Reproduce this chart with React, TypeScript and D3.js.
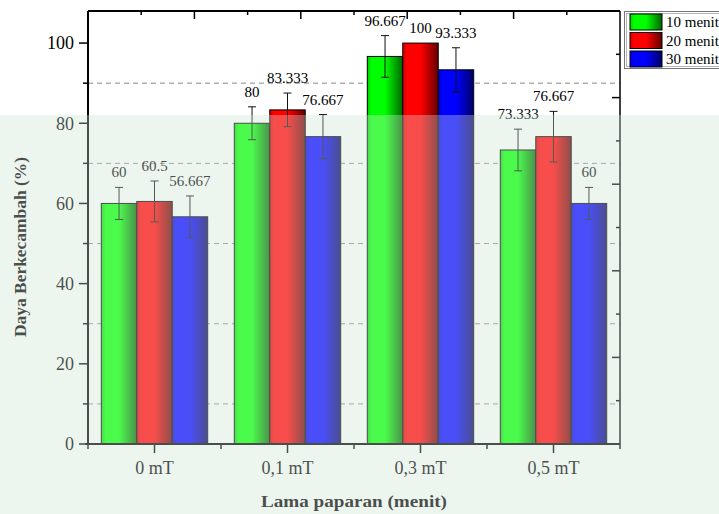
import React, { useEffect, useRef } from 'react';
import * as d3 from 'd3';

const categories = ['0 mT', '0,1 mT', '0,3 mT', '0,5 mT'];
const seriesNames = ['10 menit', '20 menit', '30 menit'];
const seriesColors = ['#00ff00', '#ff0000', '#0000ff'];
const means10 = [60, 80, 96.667, 73.333];
const means20 = [60.5, 83.333, 100, 76.667];
const means30 = [56.667, 76.667, 93.333, 60];
const err10 = [4, 4.1, 5.2, 5.2];
const err20 = [5.1, 4.2, 0, 6.3];
const err30 = [5.2, 5.5, 5.5, 4];
const majorTicks = [0, 20, 40, 60, 80, 100];
const minorTicks = [10, 30, 50, 70, 90];

const W = 719;
const H = 514;

const App: React.FC = () => {
  const svgRef = useRef<SVGSVGElement>(null);

  useEffect(() => {
    if (!svgRef.current) return;
    const svg = d3.select(svgRef.current);
    svg.selectAll('*').remove();

    const margin = { top: 11, right: 99, bottom: 70, left: 88 };
    const left = margin.left;
    const right = W - margin.right;
    const top = margin.top;
    const bottom = H - margin.bottom;
    const font = '"Liberation Serif", "Times New Roman", serif';

    const x = d3.scaleBand<string>()
      .domain(categories)
      .range([left, right])
      .paddingInner(0.2)
      .paddingOuter(0.1);

    const xs = d3.scaleBand<string>()
      .domain(seriesNames)
      .range([0, x.bandwidth()])
      .padding(0);

    const y = d3.scaleLinear().domain([0, 108]).range([bottom, top]);

    const means = [means10, means20, means30];
    const errs = [err10, err20, err30];

    // gradients
    const defs = svg.append('defs');
    seriesColors.forEach((c, i) => {
      const g = defs.append('linearGradient').attr('id', `grad${i}`)
        .attr('x1', '0%').attr('x2', '100%').attr('y1', '0%').attr('y2', '0%');
      g.append('stop').attr('offset', '0%').attr('stop-color', d3.rgb(c).darker(0.6).toString());
      g.append('stop').attr('offset', '12%').attr('stop-color', c);
      g.append('stop').attr('offset', '50%').attr('stop-color', c);
      g.append('stop').attr('offset', '100%').attr('stop-color', d3.rgb(c).darker(2.6).toString());
    });

    // background (watermark tint below the header strip)
    svg.append('rect').attr('x', 0).attr('y', 0).attr('width', W).attr('height', H).attr('fill', '#ffffff');
    svg.append('rect').attr('x', 0).attr('y', 115).attr('width', W).attr('height', H - 115).attr('fill', '#f0f7f2');

    // dashed grid
    svg.append('g').selectAll('line').data(minorTicks).join('line')
      .attr('x1', left).attr('x2', right)
      .attr('y1', d => y(d)).attr('y2', d => y(d))
      .attr('stroke', '#888').attr('stroke-width', 1).attr('stroke-dasharray', '5,4');

    // bars
    means.forEach((vals, si) => {
      const g = svg.append('g');
      vals.forEach((v, ci) => {
        const bx = (x(categories[ci]) || 0) + (xs(seriesNames[si]) || 0);
        const bw = xs.bandwidth();
        const cx = bx + bw / 2;
        const e = errs[si][ci];
        g.append('rect')
          .attr('x', bx).attr('y', y(v))
          .attr('width', bw).attr('height', bottom - y(v))
          .attr('fill', `url(#grad${si})`)
          .attr('stroke', '#000').attr('stroke-width', 1);
        if (e > 0) {
          g.append('line').attr('x1', cx).attr('x2', cx).attr('y1', y(v + e)).attr('y2', y(v - e))
            .attr('stroke', '#111').attr('stroke-width', 1);
          [v + e, v - e].forEach(t => {
            g.append('line').attr('x1', cx - 4).attr('x2', cx + 4).attr('y1', y(t)).attr('y2', y(t))
              .attr('stroke', '#111').attr('stroke-width', 1);
          });
        }
        g.append('text')
          .attr('x', cx).attr('y', y(v + e) - 10)
          .attr('text-anchor', 'middle')
          .style('font-family', font).style('font-size', '15px').attr('fill', '#000')
          .text(String(v));
      });
    });

    // frame
    const frame = svg.append('g').attr('stroke', '#000').attr('fill', 'none');
    frame.append('line').attr('x1', left).attr('x2', right).attr('y1', top).attr('y2', top).attr('stroke-width', 2);
    frame.append('line').attr('x1', left).attr('x2', left).attr('y1', top).attr('y2', bottom).attr('stroke-width', 2);
    frame.append('line').attr('x1', right).attr('x2', right).attr('y1', top).attr('y2', bottom).attr('stroke-width', 1.5);
    frame.append('line').attr('x1', left - 3).attr('x2', right).attr('y1', bottom).attr('y2', bottom).attr('stroke-width', 2);

    // left axis
    const yAxis = svg.append('g');
    majorTicks.forEach(t => {
      yAxis.append('line').attr('x1', left - 9).attr('x2', left).attr('y1', y(t)).attr('y2', y(t))
        .attr('stroke', '#000').attr('stroke-width', 1.5);
      yAxis.append('text').attr('x', left - 14).attr('y', y(t)).attr('dy', '0.35em')
        .attr('text-anchor', 'end').style('font-family', font).style('font-size', '18px')
        .attr('fill', '#000').text(t);
    });
    minorTicks.forEach(t => {
      yAxis.append('line').attr('x1', left - 5).attr('x2', left).attr('y1', y(t)).attr('y2', y(t))
        .attr('stroke', '#000').attr('stroke-width', 1.5);
    });

    // top & right ticks (10 divisions)
    d3.range(1, 10).forEach(k => {
      const tx = left + (right - left) * k / 10;
      const len = k % 2 === 0 ? 8 : 4;
      svg.append('line').attr('x1', tx).attr('x2', tx).attr('y1', top).attr('y2', top + len)
        .attr('stroke', '#000').attr('stroke-width', 1.5);
      const ty = bottom - (bottom - top) * k / 10;
      svg.append('line').attr('x1', right - len).attr('x2', right).attr('y1', ty).attr('y2', ty)
        .attr('stroke', '#000').attr('stroke-width', 1.5);
    });

    // bottom axis
    const xAxis = svg.append('g');
    categories.forEach(c => {
      const cx = (x(c) || 0) + x.bandwidth() / 2;
      xAxis.append('line').attr('x1', cx).attr('x2', cx).attr('y1', bottom).attr('y2', bottom + 9)
        .attr('stroke', '#000').attr('stroke-width', 1.5);
      xAxis.append('text').attr('x', cx).attr('y', bottom + 30).attr('text-anchor', 'middle')
        .style('font-family', font).style('font-size', '18px').attr('fill', '#000').text(c);
    });
    d3.range(0, categories.length + 1).forEach(k => {
      const tx = left + x.step() * k;
      xAxis.append('line').attr('x1', tx).attr('x2', tx).attr('y1', bottom).attr('y2', bottom + 5)
        .attr('stroke', '#000').attr('stroke-width', 1.5);
    });

    // axis titles
    svg.append('text')
      .attr('transform', `translate(26, 247) rotate(-90)`)
      .attr('text-anchor', 'middle')
      .attr('textLength', 180).attr('lengthAdjust', 'spacingAndGlyphs')
      .style('font-family', font).style('font-size', '17px').style('font-weight', 'bold')
      .attr('fill', '#000').text('Daya Berkecambah (%)');
    svg.append('text')
      .attr('x', 354).attr('y', 507).attr('text-anchor', 'middle')
      .attr('textLength', 186).attr('lengthAdjust', 'spacingAndGlyphs')
      .style('font-family', font).style('font-size', '17px').style('font-weight', 'bold')
      .attr('fill', '#000').text('Lama paparan (menit)');

    // watermark fade over the lower part
    svg.append('rect').attr('x', 0).attr('y', 115).attr('width', W).attr('height', H - 115)
      .attr('fill', '#e6f2ea').attr('opacity', 0.32);

    // legend
    const lg = svg.append('g');
    lg.append('rect').attr('x', 624.5).attr('y', 11.5).attr('width', 110).attr('height', 57)
      .attr('fill', '#fff').attr('stroke', '#777').attr('stroke-width', 1);
    lg.append('rect').attr('x', 626.5).attr('y', 13.5).attr('width', 110).attr('height', 53)
      .attr('fill', 'none').attr('stroke', '#999').attr('stroke-width', 0.7);
    seriesNames.forEach((s, i) => {
      const ly = 14 + i * 18.5;
      lg.append('rect').attr('x', 630).attr('y', ly).attr('width', 32).attr('height', 16)
        .attr('fill', `url(#grad${i})`).attr('stroke', '#000').attr('stroke-width', 1);
      lg.append('text').attr('x', 666).attr('y', ly + 13)
        .style('font-family', font).style('font-size', '15px').attr('fill', '#000').text(s);
    });
  }, []);

  return (
    <svg ref={svgRef} width={W} height={H} viewBox={`0 0 ${W} ${H}`}
      style={{ position: 'absolute', left: 0, top: 0, display: 'block' }} />
  );
};

export default App;
